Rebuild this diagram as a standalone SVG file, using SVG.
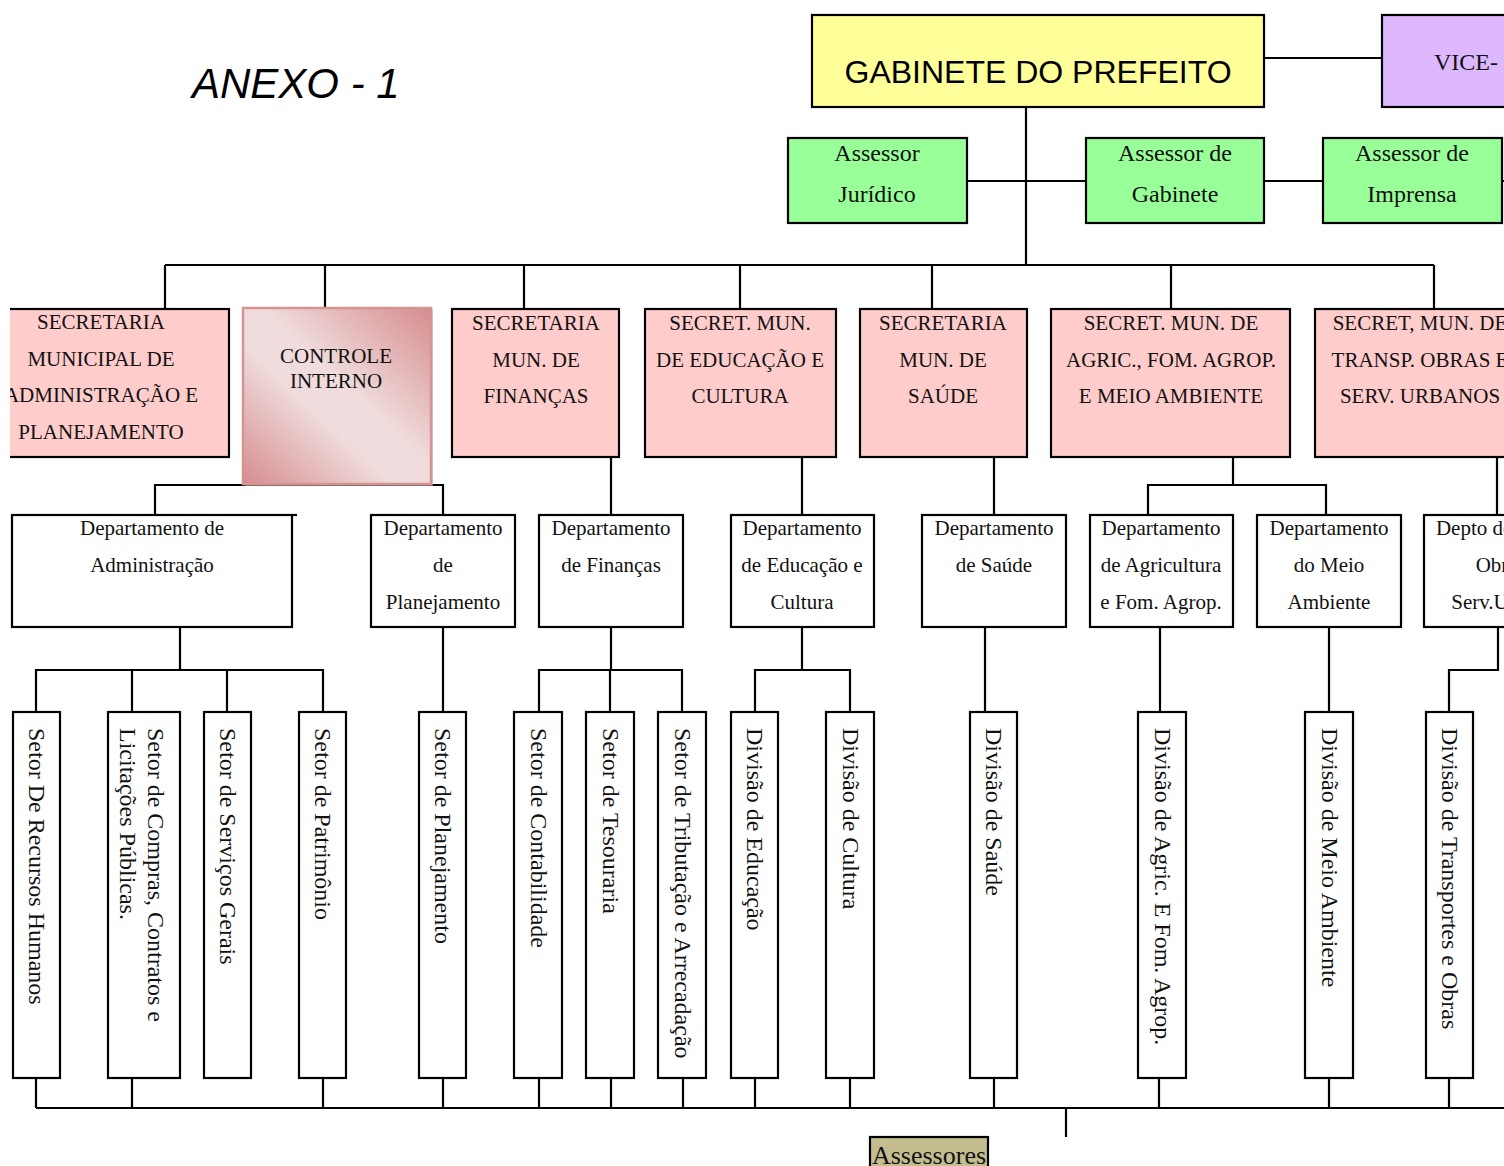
<svg xmlns="http://www.w3.org/2000/svg" width="1504" height="1166" viewBox="0 0 1504 1166">
<style>
.box{stroke:#000;stroke-width:2.2}
.pink{fill:#FFCCCC}
.white{fill:#fff}
.green{fill:#99FF99}
.t{font-family:"Liberation Serif","Times New Roman",serif;font-size:21px;text-anchor:middle;fill:#111}
.a{font-family:"Liberation Serif","Times New Roman",serif;font-size:24px;text-anchor:middle;fill:#111}
.v{font-family:"Liberation Serif","Times New Roman",serif;font-size:24px;fill:#111}
#connectors path{fill:none;stroke:#000;stroke-width:2.2}
</style>
<defs>
<linearGradient id="ci" x1="1" y1="0" x2="0" y2="1">
<stop offset="0" stop-color="#D68C8E"/>
<stop offset="0.45" stop-color="#F0DCDC"/>
<stop offset="0.6" stop-color="#F0DCDC"/>
<stop offset="1" stop-color="#D68C8E"/>
</linearGradient>
<clipPath id="page"><rect x="10" y="0" width="1494" height="1166"/></clipPath>
</defs>
<rect width="1504" height="1166" fill="#fff"/>
<text x="192" y="98" font-family="Liberation Sans, Arial, sans-serif" font-size="42" font-style="italic" fill="#000">ANEXO - 1</text>

<g id="connectors">
<path d="M1264 58H1382"/>
<path d="M1026 107V265"/>
<path d="M967 181H1086M1264 181H1323M1502 181H1504"/>
<path d="M165 265H1434"/>
<path d="M165 265V309M325 265V308M524 265V309M740 265V309M932 265V309M1171 265V309M1434 265V309"/>
<path d="M155 515V485H443V515M275 480V486"/>
<path d="M611 457V515M802 457V515M994 457V515M1497 457V515"/>
<path d="M1233 457V485M1148 515V485H1326V515"/>
<path d="M180 627V670M36 712V670H323V712M132 670V712M227 670V712"/>
<path d="M443 627V712"/>
<path d="M611 627V670M539 712V670H682V712M610 670V712"/>
<path d="M802 627V670M755 712V670H850V712"/>
<path d="M985 627V712M1160 627V712M1329 627V712"/>
<path d="M1498 627V670H1449V712"/>
<path d="M36 1078V1108M132 1078V1108M323 1078V1108M443 1078V1108M539 1078V1108M611 1078V1108M683 1078V1108M755 1078V1108M850 1078V1108M994 1078V1108M1159 1078V1108M1329 1078V1108M1449 1078V1108"/>
<path d="M36 1108H1504"/>
<path d="M1066 1108V1137"/>
</g>

<g id="gabinete">
<rect class="box" x="812" y="15" width="452" height="92" fill="#FFFF99"/>
<text x="1038" y="83" font-family="Liberation Sans, Arial, sans-serif" font-size="32" text-anchor="middle" fill="#000">GABINETE DO PREFEITO</text>
</g>
<g id="vice">
<rect class="box" x="1382" y="15" width="200" height="92" fill="#DDB8FF"/>
<text class="v" x="1434" y="70">VICE-</text>
</g>
<g id="assessor-juridico">
<rect class="box green" x="788" y="138" width="179" height="85"/>
<text class="a" x="877" y="161">Assessor</text>
<text class="a" x="877" y="202">Jurídico</text>
</g>
<g id="assessor-gabinete">
<rect class="box green" x="1086" y="138" width="178" height="85"/>
<text class="a" x="1175" y="161">Assessor de</text>
<text class="a" x="1175" y="202">Gabinete</text>
</g>
<g id="assessor-imprensa">
<rect class="box green" x="1323" y="138" width="179" height="85"/>
<text class="a" x="1412" y="161">Assessor de</text>
<text class="a" x="1412" y="202">Imprensa</text>
</g>

<g id="sec-admin" clip-path="url(#page)">
<rect class="box pink" x="-25" y="309" width="254" height="148"/>
<text class="t" x="101" y="329">SECRETARIA</text>
<text class="t" x="101" y="366">MUNICIPAL DE</text>
<text class="t" x="101" y="402">ADMINISTRAÇÃO E</text>
<text class="t" x="101" y="439">PLANEJAMENTO</text>
</g>
<g id="controle-interno">
<rect x="245" y="310" width="188" height="176" fill="#C99A9A" opacity="0.6"/>
<rect x="243" y="308" width="188" height="176" fill="url(#ci)" stroke="#D49494" stroke-width="2.5"/>
<text class="t" x="336" y="363">CONTROLE</text>
<text class="t" x="336" y="388">INTERNO</text>
</g>
<g id="sec-financas">
<rect class="box pink" x="452" y="309" width="167" height="148"/>
<text class="t" x="536" y="330">SECRETARIA</text>
<text class="t" x="536" y="367">MUN. DE</text>
<text class="t" x="536" y="403">FINANÇAS</text>
</g>
<g id="sec-educacao">
<rect class="box pink" x="645" y="309" width="191" height="148"/>
<text class="t" x="740" y="330">SECRET. MUN.</text>
<text class="t" x="740" y="367">DE EDUCAÇÃO E</text>
<text class="t" x="740" y="403">CULTURA</text>
</g>
<g id="sec-saude">
<rect class="box pink" x="860" y="309" width="167" height="148"/>
<text class="t" x="943" y="330">SECRETARIA</text>
<text class="t" x="943" y="367">MUN. DE</text>
<text class="t" x="943" y="403">SAÚDE</text>
</g>
<g id="sec-agric">
<rect class="box pink" x="1051" y="309" width="239" height="148"/>
<text class="t" x="1171" y="330">SECRET. MUN. DE</text>
<text class="t" x="1171" y="367">AGRIC., FOM. AGROP.</text>
<text class="t" x="1171" y="403">E MEIO AMBIENTE</text>
</g>
<g id="sec-transp">
<rect class="box pink" x="1315" y="309" width="220" height="148"/>
<text class="t" x="1420" y="330">SECRET, MUN. DE</text>
<text class="t" x="1420" y="367">TRANSP. OBRAS E</text>
<text class="t" x="1420" y="403">SERV. URBANOS</text>
</g>

<g id="dep-admin">
<rect class="box white" x="12" y="515" width="280" height="112"/>
<path d="M292 515H297" stroke="#000" stroke-width="2.2"/>
<text class="t" x="152" y="535">Departamento de</text>
<text class="t" x="152" y="572">Administração</text>
</g>
<g id="dep-planejamento">
<rect class="box white" x="371" y="515" width="144" height="112"/>
<text class="t" x="443" y="535">Departamento</text>
<text class="t" x="443" y="572">de</text>
<text class="t" x="443" y="609">Planejamento</text>
</g>
<g id="dep-financas">
<rect class="box white" x="539" y="515" width="144" height="112"/>
<text class="t" x="611" y="535">Departamento</text>
<text class="t" x="611" y="572">de Finanças</text>
</g>
<g id="dep-educacao">
<rect class="box white" x="731" y="515" width="143" height="112"/>
<text class="t" x="802" y="535">Departamento</text>
<text class="t" x="802" y="572">de Educação e</text>
<text class="t" x="802" y="609">Cultura</text>
</g>
<g id="dep-saude">
<rect class="box white" x="922" y="515" width="144" height="112"/>
<text class="t" x="994" y="535">Departamento</text>
<text class="t" x="994" y="572">de Saúde</text>
</g>
<g id="dep-agric">
<rect class="box white" x="1090" y="515" width="143" height="112"/>
<text class="t" x="1161" y="535">Departamento</text>
<text class="t" x="1161" y="572">de Agricultura</text>
<text class="t" x="1161" y="609">e Fom. Agrop.</text>
</g>
<g id="dep-meio">
<rect class="box white" x="1257" y="515" width="144" height="112"/>
<text class="t" x="1329" y="535">Departamento</text>
<text class="t" x="1329" y="572">do Meio</text>
<text class="t" x="1329" y="609">Ambiente</text>
</g>
<g id="dep-obras">
<rect class="box white" x="1424" y="515" width="170" height="112"/>
<text class="t" x="1508" y="535">Depto de Transp.</text>
<text class="t" x="1508" y="572">Obras e</text>
<text class="t" x="1508" y="609">Serv.Urbanos</text>
</g>

<g id="setor-rh">
<rect class="box white" x="13" y="712" width="47" height="366"/>
<text class="v" transform="translate(29 728) rotate(90)">Setor De Recursos Humanos</text>
</g>
<g id="setor-compras">
<rect class="box white" x="108" y="712" width="72" height="366"/>
<text class="v" transform="translate(148 728) rotate(90)">Setor de Compras, Contratos e</text>
<text class="v" transform="translate(120 728) rotate(90)">Licitações Públicas.</text>
</g>
<g id="setor-servicos">
<rect class="box white" x="204" y="712" width="47" height="366"/>
<text class="v" transform="translate(220 728) rotate(90)">Setor de Serviços Gerais</text>
</g>
<g id="setor-patrimonio">
<rect class="box white" x="299" y="712" width="47" height="366"/>
<text class="v" transform="translate(315 728) rotate(90)">Setor de Patrimônio</text>
</g>
<g id="setor-planejamento">
<rect class="box white" x="419" y="712" width="47" height="366"/>
<text class="v" transform="translate(435 728) rotate(90)">Setor de Planejamento</text>
</g>
<g id="setor-contabilidade">
<rect class="box white" x="514" y="712" width="48" height="366"/>
<text class="v" transform="translate(531 728) rotate(90)">Setor de Contabilidade</text>
</g>
<g id="setor-tesouraria">
<rect class="box white" x="586" y="712" width="48" height="366"/>
<text class="v" transform="translate(603 728) rotate(90)">Setor de Tesouraria</text>
</g>
<g id="setor-tributacao">
<rect class="box white" x="658" y="712" width="48" height="366"/>
<text class="v" transform="translate(675 728) rotate(90)">Setor de Tributação e Arrecadação</text>
</g>
<g id="div-educacao">
<rect class="box white" x="731" y="712" width="47" height="366"/>
<text class="v" transform="translate(747 728) rotate(90)">Divisão de Educação</text>
</g>
<g id="div-cultura">
<rect class="box white" x="826" y="712" width="48" height="366"/>
<text class="v" transform="translate(843 728) rotate(90)">Divisão de Cultura</text>
</g>
<g id="div-saude">
<rect class="box white" x="970" y="712" width="47" height="366"/>
<text class="v" transform="translate(986 728) rotate(90)">Divisão de Saúde</text>
</g>
<g id="div-agric">
<rect class="box white" x="1138" y="712" width="48" height="366"/>
<text class="v" transform="translate(1155 728) rotate(90)">Divisão de Agric. E Fom. Agrop.</text>
</g>
<g id="div-meio">
<rect class="box white" x="1305" y="712" width="48" height="366"/>
<text class="v" transform="translate(1322 728) rotate(90)">Divisão de Meio Ambiente</text>
</g>
<g id="div-transportes">
<rect class="box white" x="1426" y="712" width="47" height="366"/>
<text class="v" transform="translate(1442 728) rotate(90)">Divisão de Transportes e Obras</text>
</g>

<g id="assessores">
<rect class="box" x="870" y="1137" width="118" height="40" fill="#C4BD8F"/>
<text x="929" y="1164" font-family="Liberation Serif, Times New Roman, serif" font-size="26" text-anchor="middle" fill="#111">Assessores</text>
</g>
</svg>
